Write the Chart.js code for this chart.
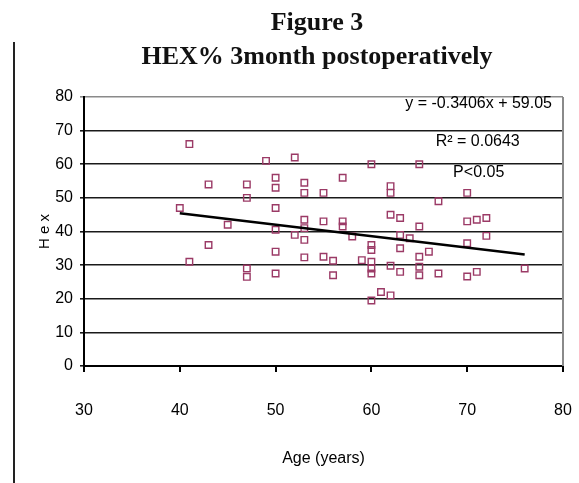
<!DOCTYPE html>
<html>
<head>
<meta charset="utf-8">
<script src="https://cdn.jsdelivr.net/npm/chart.js@4.4.1/dist/chart.umd.min.js"></script>
<style>
  html, body { margin: 0; padding: 0; background: #fff; }
  #wrap { position: relative; width: 579px; height: 483px; overflow: hidden; background: #fff; }
  #c { position: absolute; left: 0; top: 0; }
  #rule { position: absolute; left: 13px; top: 42px; width: 2px; height: 441px; background: #222; }
  #title { position: absolute; left: 117px; top: 5px; width: 400px; text-align: center;
           font: bold 26px "Liberation Serif", "Times New Roman", serif; line-height: 34px; color: #111; }
</style>
</head>
<body>
<div id="wrap">
  <canvas id="c" width="579" height="483"></canvas>
  <div id="rule"></div>
  <div id="title">Figure 3<br>HEX% 3month postoperatively</div>
</div>
<script>
// ---- data ----
const ages = [40,41,41,43,43,45,47,47,47,47,49,50,50,50,50,50,50,52,52,53,53,53,53,53,53,55,55,55,56,56,57,57,57,58,59,60,60,60,60,60,60,60,61,62,62,62,62,62,63,63,63,63,64,65,65,65,65,65,66,67,67,70,70,70,70,71,71,72,72,76];
const hex  = [47,66,31,54,36,42,54,50,29,26.5,61,56,53,47,40.5,34,27.5,62,39,54.5,51.5,43.5,41,37.5,32.3,51.5,43,32.5,31.3,27,56,43,41.5,38.5,31.5,60,36,34.5,31,29,27.5,19.5,22,53.5,51.5,45,29.8,21,44,39,35,28,38,60,41.5,32.5,29.5,27,34,49,27.5,51.5,43,36.5,26.6,43.5,28,44,38.7,29];
const trendX = [40, 76];
const trendY = [45.43, 33.16];
const xTicks = [30, 40, 50, 60, 70, 80];
const yTicks = [0, 10, 20, 30, 40, 50, 60, 70, 80];
const annotLines = ["y = -0.3406x + 59.05", "R\u00B2 = 0.0643", "P<0.05"];

const scatterPts = ages.map((a, i) => ({x: a, y: hex[i]}));
const trendPts = trendX.map((a, i) => ({x: a, y: trendY[i]}));

const frame = {
  id: 'frame',
  afterDatasetsDraw(chart) {
    const {ctx, chartArea: ca, scales} = chart;
    ctx.save();
    // right plot-area border
    ctx.strokeStyle = '#8a8a8a';
    ctx.lineWidth = 2;
    ctx.beginPath();
    ctx.moveTo(ca.right, ca.top);
    ctx.lineTo(ca.right, ca.bottom);
    ctx.stroke();
    // regression annotation
    ctx.fillStyle = '#000';
    ctx.font = '16px "Liberation Sans", Arial, sans-serif';
    ctx.textBaseline = 'middle';
    ctx.textAlign = 'right';
    ctx.fillText(annotLines[0], ca.right - 11, scales.y.getPixelForValue(78));
    ctx.textAlign = 'center';
    ctx.fillText(annotLines[1], scales.x.getPixelForValue(71.1), scales.y.getPixelForValue(66.7));
    ctx.fillText(annotLines[2], scales.x.getPixelForValue(71.2), scales.y.getPixelForValue(57.4));
    ctx.restore();
  }
};

new Chart(document.getElementById('c'), {
  type: 'scatter',
  data: {
    datasets: [
      {
        label: 'HEX',
        data: scatterPts,
        pointStyle: 'rect',
        pointRadius: 4.6,
        pointBorderWidth: 1.4,
        pointBorderColor: '#9b3a66',
        pointBackgroundColor: 'rgba(255,255,255,0)',
        showLine: false,
        order: 2
      },
      {
        label: 'Linear',
        type: 'line',
        data: trendPts,
        borderColor: '#000',
        borderWidth: 2.5,
        pointRadius: 0,
        fill: false,
        order: 1
      }
    ]
  },
  plugins: [frame],
  options: {
    responsive: false,
    animation: false,
    events: [],
    layout: { padding: { top: 97, left: 36, right: 16, bottom: 10 } },
    plugins: { legend: { display: false }, tooltip: { enabled: false }, title: { display: false } },
    scales: {
      x: {
        type: 'linear',
        min: 30, max: 80,
        afterBuildTicks: s => { s.ticks = xTicks.map(v => ({value: v})); },
        afterFit: s => { s.height = 107; s.paddingLeft = 0; s.paddingRight = 0; },
        grid: { drawOnChartArea: false, drawTicks: true, tickLength: 6, color: '#000', lineWidth: 2 },
        border: { display: true, color: '#000', width: 2 },
        ticks: { padding: 29, color: '#000', font: { family: '"Liberation Sans", Arial, sans-serif', size: 16 } },
        title: { display: true, text: 'Age (years)', color: '#000', padding: { top: 0, bottom: 4.4 },
                 font: { family: '"Liberation Sans", Arial, sans-serif', size: 16 } }
      },
      y: {
        min: 0, max: 80,
        afterBuildTicks: s => { s.ticks = yTicks.map(v => ({value: v})); },
        afterFit: s => { s.width = 48; },
        grid: {
          drawTicks: true, tickLength: 4,
          color: c => (c.tick && c.tick.value === 80) ? '#8a8a8a' : '#1a1a1a',
          lineWidth: 1.6
        },
        border: { display: true, color: '#000', width: 2 },
        ticks: { padding: 7, color: '#000', font: { family: '"Liberation Sans", Arial, sans-serif', size: 16 } },
        title: { display: true, text: 'H e x', color: '#000', padding: { top: 0, bottom: 0 },
                 font: { family: '"Liberation Sans", Arial, sans-serif', size: 15 } }
      }
    }
  }
});
</script>
</body>
</html>
